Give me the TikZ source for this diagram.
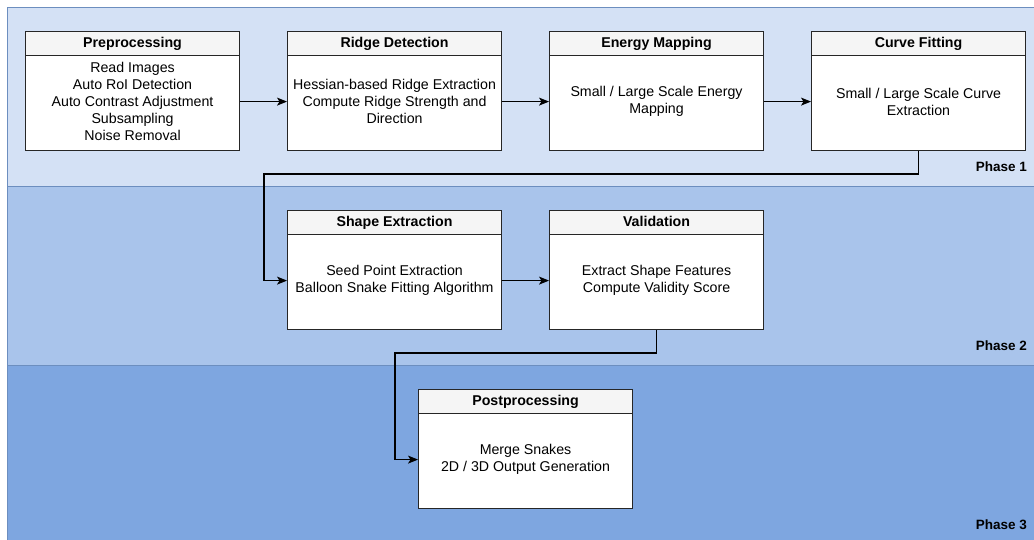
\documentclass[tikz,border=0pt]{standalone}
\usepackage{fontspec}
\setmainfont{Liberation Sans}
\usetikzlibrary{arrows.meta,calc}
\definecolor{bandA}{HTML}{D4E1F5}
\definecolor{bandB}{HTML}{A9C4EB}
\definecolor{bandC}{HTML}{7EA6E0}
\definecolor{bandline}{HTML}{6C8EBF}
\definecolor{hdr}{HTML}{F5F5F5}
\tikzset{
  boxbody/.style={draw=black!85, fill=white, line width=1.1pt, minimum width=214pt, minimum height=119pt, inner sep=0pt},
  boxhead/.style={draw=black!85, fill=hdr, line width=1.1pt, minimum width=214pt, minimum height=24pt, inner sep=0pt, text height=10pt, text depth=3pt, font=\fontsize{14.2}{16}\selectfont\bfseries},
  boxtext/.style={align=center, inner sep=0pt, font=\fontsize{14.2}{17}\selectfont},
  band/.style={draw=bandline, line width=0.8pt},
  phase/.style={anchor=east, inner sep=0pt, font=\fontsize{13.5}{16}\selectfont\bfseries},
  arr/.style={draw=black, line width=1.1pt, -{Stealth[length=10pt,width=8pt,inset=2.5pt]}}
}
\newcommand\pbox[5]{%
  \node[boxbody, anchor=north west] (#1) at (#2,#3) {};
  \node[boxhead, anchor=north west] (#1h) at (#2,#3) {#4};
  \node[boxtext] (#1t) at ($(#1h.south)!0.5!(#1.south)+(0,-2)$) {#5};
}
\begin{document}
\begin{tikzpicture}[x=1pt,y=-1pt]
\useasboundingbox (0,0) rectangle (1034,540);
\clip (0,0) rectangle (1034,540);
\fill[white] (0,0) rectangle (1034,540);
\draw[band, fill=bandA] (7,7) rectangle (1040,186);
\draw[band, fill=bandB] (7,186) rectangle (1040,365);
\draw[band, fill=bandC] (7,365) rectangle (1040,560);
\node[phase] (p1) at (1027,167) {Phase 1};
\node[phase] (p2) at (1027,346) {Phase 2};
\node[phase] (p3) at (1027,525) {Phase 3};

\pbox{pre}{25}{31}{Preprocessing}{Read Images\\Auto RoI Detection\\Auto Contrast Adjustment\\Subsampling\\Noise Removal}
\pbox{rid}{287}{31}{Ridge Detection}{Hessian-based Ridge Extraction\\Compute Ridge Strength and\\Direction}
\pbox{ene}{549}{31}{Energy Mapping}{Small / Large Scale Energy\\Mapping}
\pbox{cur}{811}{31}{Curve Fitting}{Small / Large Scale Curve\\Extraction}
\pbox{sha}{287}{210}{Shape Extraction}{Seed Point Extraction\\Balloon Snake Fitting Algorithm}
\pbox{val}{549}{210}{Validation}{Extract Shape Features\\Compute Validity Score}
\pbox{pos}{418}{389}{Postprocessing}{Merge Snakes\\2D / 3D Output Generation}

\draw[arr] (pre.east |- pret) -- (rid.west |- pret);
\draw[arr] (rid.east |- ridt) -- (ene.west |- ridt);
\draw[arr] (ene.east |- enet) -- (cur.west |- enet);
\coordinate (k1) at (264,174);
\draw[arr] (cur.south) |- (k1) |- (sha.west |- shat);
\draw[arr] (sha.east |- shat) -- (val.west |- shat);
\coordinate (k2) at (395,353);
\draw[arr] (val.south) |- (k2) |- (pos.west |- post);
\end{tikzpicture}
\end{document}
